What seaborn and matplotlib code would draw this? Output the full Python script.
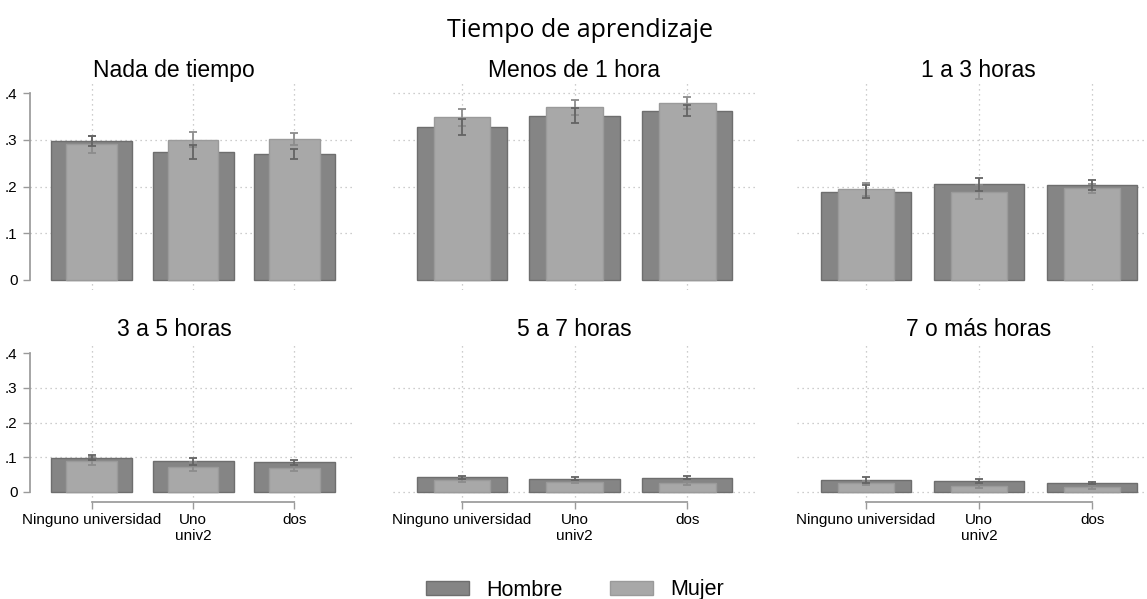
import numpy as np
import matplotlib
matplotlib.use("Agg")
import matplotlib.pyplot as plt
from matplotlib.patches import Patch
import seaborn as sns

# data (proportions)
PANELS = ["Nada de tiempo", "Menos de 1 hora", "1 a 3 horas",
          "3 a 5 horas", "5 a 7 horas", "7 o más horas"]
CATEGORIES = ["Ninguno universidad", "Uno\nuniv2", "dos"]
Y_TICKS = [0, 0.1, 0.2, 0.3, 0.4]
Y_LABELS = ["0", ".1", ".2", ".3", ".4"]

HOMBRE = [
    [0.298, 0.273, 0.269],
    [0.328, 0.351, 0.362],
    [0.189, 0.205, 0.203],
    [0.099, 0.089, 0.086],
    [0.042, 0.038, 0.041],
    [0.034, 0.032, 0.026],
]
MUJER = [
    [0.290, 0.300, 0.302],
    [0.348, 0.369, 0.379],
    [0.194, 0.189, 0.196],
    [0.089, 0.073, 0.068],
    [0.035, 0.030, 0.025],
    [0.025, 0.018, 0.013],
]
HOMBRE_ERR = [
    [0.011, 0.015, 0.011],
    [0.017, 0.016, 0.012],
    [0.014, 0.014, 0.010],
    [0.008, 0.010, 0.007],
    [0.005, 0.005, 0.004],
    [0.008, 0.006, 0.004],
]
MUJER_ERR = [
    [0.018, 0.016, 0.013],
    [0.018, 0.017, 0.013],
    [0.014, 0.015, 0.010],
    [0.011, 0.012, 0.009],
    [0.006, 0.005, 0.005],
    [0.006, 0.008, 0.005],
]

HOMBRE_COLOR, HOMBRE_EDGE = "#858585", "#6e6e6e"
MUJER_COLOR, MUJER_EDGE = "#a8a8a8", "#9a9a9a"
GRID_COLOR = "#bdbdbd"
AXIS_COLOR = "#9a9a9a"

W, H = 1147, 599
sns.set_theme(style="white")
plt.rcParams["font.family"] = ["Liberation Sans", "DejaVu Sans"]
plt.rcParams["text.color"] = "black"
plt.rcParams["axes.titlecolor"] = "black"

fig = plt.figure(figsize=(W / 100, H / 100), dpi=100)

# pixel boxes: (bottom, top, ylim) per row, (left, right) per column
ROWS = [(290, 83, (-0.0214, 0.4214)), (502, 343, (-0.029, 0.429))]
COLS = [(30, 355), (393, 755), (797, 1160)]
XLIM = (-0.61, 2.6)
pos = np.arange(len(CATEGORIES))

for i, name in enumerate(PANELS):
    r, c = divmod(i, 3)
    yb, yt, ylim = ROWS[r]
    x0, x1 = COLS[c]
    ax = fig.add_axes([x0 / W, 1 - yb / H, (x1 - x0) / W, (yb - yt) / H])

    sns.barplot(x=CATEGORIES, y=HOMBRE[i], color=HOMBRE_COLOR, width=0.8,
                saturation=1, edgecolor=HOMBRE_EDGE, linewidth=1,
                errorbar=None, ax=ax, zorder=2)
    sns.barplot(x=CATEGORIES, y=MUJER[i], color=MUJER_COLOR, width=0.5,
                saturation=1, edgecolor=MUJER_EDGE, linewidth=1,
                errorbar=None, ax=ax, zorder=3)
    ax.errorbar(pos, HOMBRE[i], yerr=HOMBRE_ERR[i], fmt="none",
                ecolor="#646464", elinewidth=1.3, capsize=3, capthick=1.3, zorder=5)
    ax.errorbar(pos, MUJER[i], yerr=MUJER_ERR[i], fmt="none",
                ecolor="#8c8c8c", elinewidth=1.3, capsize=3, capthick=1.3, zorder=4)

    ax.set_xlim(*XLIM)
    ax.set_ylim(*ylim)
    ax.set_xlabel("")
    ax.set_ylabel("")
    ax.set_axisbelow(True)

    # dotted grid
    ax.xaxis.grid(True, color=GRID_COLOR, linestyle=(0, (1, 3)), linewidth=0.9)
    grid_y = [0.1, 0.2, 0.3]
    if r == 1 and c > 0:
        grid_y = [0.0] + grid_y
    if r == 0 and c == 1:
        grid_y = grid_y + [0.4]
    for gy in grid_y:
        ax.axhline(gy, color=GRID_COLOR, linestyle=(0, (1, 3)), linewidth=0.9, zorder=0)

    for s in ["top", "right"]:
        ax.spines[s].set_visible(False)

    ax.set_yticks(Y_TICKS)
    if c == 0:
        ax.set_yticklabels(Y_LABELS)
        ax.spines["left"].set_bounds(0, 0.4)
        ax.spines["left"].set_color(AXIS_COLOR)
        ax.tick_params(axis="y", left=True, length=5, width=1, color=AXIS_COLOR,
                       pad=4, labelsize=11, labelcolor="black")
    else:
        ax.spines["left"].set_visible(False)
        ax.tick_params(axis="y", left=False, labelleft=False)

    if r == 1:
        ax.spines["bottom"].set_bounds(0, 2)
        ax.spines["bottom"].set_color(AXIS_COLOR)
        ax.tick_params(axis="x", bottom=True, length=5, width=1, color=AXIS_COLOR,
                       pad=3, labelsize=11, labelcolor="black")
    else:
        ax.spines["bottom"].set_visible(False)
        ax.tick_params(axis="x", bottom=False, labelbottom=False)

    title_x = 0.443 if c == 0 else 0.5
    ax.set_title(name, fontsize=16.5, x=title_x, pad=4 if r == 0 else 5)

fig.text(580 / W, 1 - 37 / H, "Tiempo de aprendizaje", ha="center", va="baseline",
         fontsize=18, family=["Open Sans", "DejaVu Sans"])

handles = [Patch(facecolor=HOMBRE_COLOR, edgecolor=HOMBRE_EDGE, label="Hombre"),
           Patch(facecolor=MUJER_COLOR, edgecolor=MUJER_EDGE, label="Mujer")]
fig.legend(handles=handles, loc="center", bbox_to_anchor=(575 / W, 1 - 590 / H),
           ncol=2, frameon=False, fontsize=15.5, handlelength=2.0, handleheight=0.6,
           handletextpad=0.8, columnspacing=2.2)

fig.savefig("out.png", dpi=100)
